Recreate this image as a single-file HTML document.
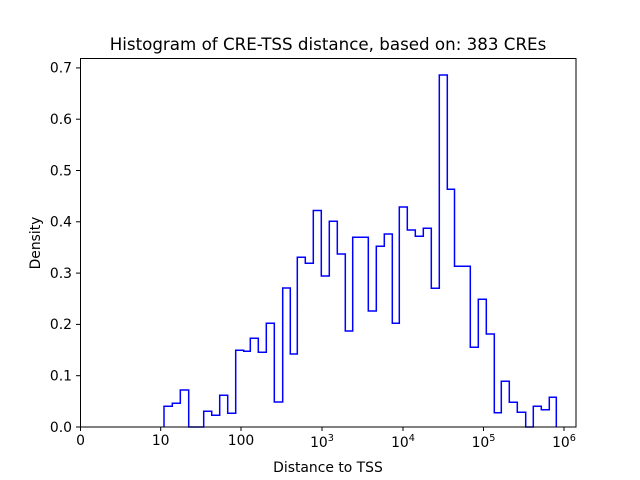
<!DOCTYPE html>
<html><head><meta charset="utf-8"><style>
html,body{margin:0;padding:0;background:#fff;}
svg{display:block;font-family:"DejaVu Sans","Liberation Sans",sans-serif;}
</style></head><body>
<svg width="640" height="480" viewBox="0 0 640 480" xmlns="http://www.w3.org/2000/svg">
<rect width="640" height="480" fill="#fff"/>
<path fill="none" stroke="#0000ff" stroke-width="1.5" stroke-linejoin="miter" d="M164,427 V406.3 H172.3 V403.3 H180.3 V390 H188.7 V427 H203.7 V411.3 H211.7 V415.3 H219.7 V395.3 H227.7 V413.3 H235.7 V350.3 H243.7 V351.3 H250.3 V338.3 H258.3 V352.3 H266.3 V323.3 H274.3 V402 H282.7 V288 H290.3 V354 H297.3 V257.3 H305.3 V263.3 H313.3 V210.5 H321.3 V276 H329.3 V221.3 H337.3 V254 H345.3 V331 H352.7 V237.3 H368.3 V311 H376.3 V246.3 H384.3 V234 H392.3 V323.3 H399.3 V207 H407.3 V230 H415.3 V236.3 H423.3 V228.3 H431.3 V288.3 H439.3 V75 H447.3 V189.3 H454.5 V266.3 H470.3 V347.3 H478.3 V299.3 H486.3 V334 H494.3 V412.7 H501.3 V381.3 H509.3 V402.3 H517.3 V412.3 H525.7 V427 H533.3 V406.3 H541.3 V409.7 H549.3 V397.3 H556.3 V427"/>
<rect x="80.5" y="58.5" width="495.5" height="368.5" fill="none" stroke="#000" stroke-width="1"/>
<g stroke="#000" stroke-width="1">
<line x1="80.5" y1="427" x2="80.5" y2="431"/>
<line x1="160.7" y1="427" x2="160.7" y2="431"/>
<line x1="241" y1="427" x2="241" y2="431"/>
<line x1="322" y1="427" x2="322" y2="431"/>
<line x1="403" y1="427" x2="403" y2="431"/>
<line x1="483.5" y1="427" x2="483.5" y2="431"/>
<line x1="564" y1="427" x2="564" y2="431"/>
<line x1="76" y1="427" x2="80.5" y2="427"/>
<line x1="76" y1="375.7" x2="80.5" y2="375.7"/>
<line x1="76" y1="324.4" x2="80.5" y2="324.4"/>
<line x1="76" y1="273.1" x2="80.5" y2="273.1"/>
<line x1="76" y1="221.8" x2="80.5" y2="221.8"/>
<line x1="76" y1="170.5" x2="80.5" y2="170.5"/>
<line x1="76" y1="119.2" x2="80.5" y2="119.2"/>
<line x1="76" y1="67.9" x2="80.5" y2="67.9"/>
</g>
<g font-size="13.9" fill="#000" text-anchor="middle">
<text x="80.5" y="445">0</text>
<text x="160.7" y="445">10</text>
<text x="241" y="445">100</text>
<text x="322" y="447">10<tspan font-size="9.7" dy="-6">3</tspan></text>
<text x="403" y="447">10<tspan font-size="9.7" dy="-6">4</tspan></text>
<text x="483.5" y="447">10<tspan font-size="9.7" dy="-6">5</tspan></text>
<text x="564" y="447">10<tspan font-size="9.7" dy="-6">6</tspan></text>
</g>
<g font-size="13.9" fill="#000" text-anchor="end">
<text x="72" y="431.8">0.0</text>
<text x="72" y="380.5">0.1</text>
<text x="72" y="329.2">0.2</text>
<text x="72" y="277.9">0.3</text>
<text x="72" y="226.6">0.4</text>
<text x="72" y="175.3">0.5</text>
<text x="72" y="124">0.6</text>
<text x="72" y="72.7">0.7</text>
</g>
<text x="328" y="472" font-size="13.9" text-anchor="middle">Distance to TSS</text>
<text x="40" y="243" font-size="13.9" text-anchor="middle" transform="rotate(-90 40 243)">Density</text>
<text x="328" y="50" font-size="16.7" text-anchor="middle">Histogram of CRE-TSS distance, based on: 383 CREs</text>
</svg>
</body></html>
